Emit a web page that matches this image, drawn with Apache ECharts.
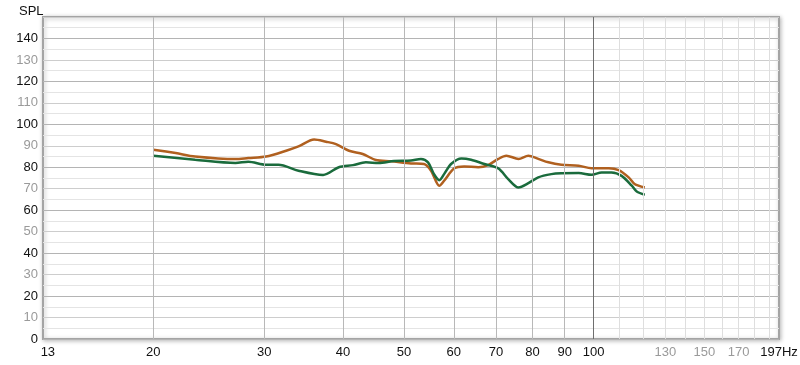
<!DOCTYPE html>
<html>
<head>
<meta charset="utf-8">
<script src="https://cdn.jsdelivr.net/npm/echarts@6/dist/echarts.min.js"></script>
<style>
html,body{margin:0;padding:0;background:#fff;}
#c{width:800px;height:365px;}
</style>
</head>
<body>
<div id="c"></div>
<script>
// ---- data ----
const orangeFreq = [20, 21.7, 23.3, 27.0, 28.3, 30.2, 32.5, 34.0, 36.0, 37.6, 39.0, 40.9, 43.0, 45.1, 47.7, 51.3, 53.8, 55.2, 56.9, 57.9, 60.1, 62.3, 65.6, 68.0, 70.6, 72.7, 76.0, 78.8, 81.7, 84.8, 88.9, 94.7, 99.3, 105.7, 109.6, 113.7, 116.2, 120.6];
const orangeSpl  = [88.2, 86.6, 85.0, 83.8, 84.3, 85.0, 87.7, 89.7, 92.9, 91.9, 90.8, 87.7, 86.2, 83.4, 82.8, 81.8, 81.5, 78.4, 71.4, 73.7, 79.5, 80.4, 80.0, 81.0, 83.9, 85.4, 83.9, 85.4, 83.9, 82.3, 81.2, 80.7, 79.6, 79.6, 78.7, 75.3, 72.2, 70.6];
const greenFreq  = [20, 23.3, 27.0, 28.3, 30.2, 31.6, 34.0, 37.2, 39.4, 41.5, 43.5, 45.6, 48.2, 51.3, 53.2, 54.6, 55.8, 56.9, 57.9, 59.4, 61.7, 63.9, 67.1, 70.6, 73.2, 76.0, 78.8, 81.7, 85.7, 88.9, 94.7, 99.3, 103.0, 106.8, 110.8, 115.0, 117.1, 120.6];
const greenSpl   = [85.4, 83.5, 82.0, 82.6, 81.2, 81.2, 78.4, 76.4, 80.0, 81.0, 82.3, 82.0, 82.9, 83.1, 83.9, 82.3, 76.8, 74.0, 76.8, 81.5, 84.1, 83.5, 81.5, 79.5, 74.5, 70.6, 72.6, 75.3, 76.8, 77.2, 77.3, 76.5, 77.6, 77.6, 76.0, 71.4, 68.7, 67.2];

const xMin = 13.36, xMax = 197;
const majorGridFreqs = [20, 30, 40, 50, 60, 70, 80, 90];
const decadeGridFreqs = [100];
const minorGridFreqs = [110, 120, 130, 140, 150, 160, 170, 180, 190];
const xTickValues = [13.6, 20, 30, 40, 50, 60, 70, 80, 90, 100, 130, 150, 170, 197];
const xTickLabels = ['13', '20', '30', '40', '50', '60', '70', '80', '90', '100', '130', '150', '170', '197Hz'];
const xGreyLabels = ['130', '150', '170'];

const FONT = "'Liberation Sans', Arial, sans-serif";

const lineData = [];
majorGridFreqs.forEach(f => lineData.push({xAxis: f, lineStyle: {color: '#b8b8b8', width: 1, type: 'solid'}, label: {show: false}}));
decadeGridFreqs.forEach(f => lineData.push({xAxis: f, lineStyle: {color: '#6e6e6e', width: 1, type: 'solid'}, label: {show: false}}));
minorGridFreqs.forEach(f => lineData.push({xAxis: f, lineStyle: {color: '#dedede', width: 1, type: 'solid'}, label: {show: false}}));
xTickValues.forEach((f, i) => lineData.push({
  xAxis: f,
  lineStyle: {color: 'rgba(255,255,255,0)', width: 1},
  label: {
    show: true, position: 'start', distance: 7,
    formatter: xTickLabels[i],
    color: xGreyLabels.indexOf(xTickLabels[i]) >= 0 ? '#9a9a9a' : '#111',
    fontSize: 13, fontFamily: FONT
  }
}));

const chart = echarts.init(document.getElementById('c'), null, {renderer: 'canvas'});
chart.setOption({
  animation: false,
  backgroundColor: '#fff',
  title: {text: 'SPL', left: 14, top: 0, textStyle: {fontSize: 13, fontWeight: 'normal', color: '#111', fontFamily: FONT}},
  grid: {
    left: 43, top: 17, right: 21, bottom: 26,
    show: true, backgroundColor: '#fff',
    borderColor: '#a4a4a4', borderWidth: 2,
    shadowColor: 'rgba(0,0,0,0.25)', shadowBlur: 4, shadowOffsetX: 1, shadowOffsetY: 1
  },
  xAxis: {
    type: 'log', logBase: 10, min: xMin, max: xMax,
    axisLine: {show: false}, axisTick: {show: false}, axisLabel: {show: false}, splitLine: {show: false}
  },
  yAxis: {
    type: 'value', min: 0, max: 150, interval: 5,
    axisLine: {show: false}, axisTick: {show: false},
    axisLabel: {
      margin: 5, fontSize: 13, fontFamily: FONT,
      formatter: v => (v % 10 === 0 && v < 150) ? String(v) : '',
      color: v => (v % 20 === 0 ? '#111' : '#9a9a9a')
    },
    splitLine: {show: true, lineStyle: {color: ['#b4b4b4', '#e4e4e4', '#cdcdcd', '#e4e4e4'], width: 1}}
  },
  series: [
    {
      type: 'line', data: [], z: 1, silent: true,
      markLine: {silent: true, symbol: 'none', animation: false, data: lineData}
    },
    {
      name: 'orange', type: 'line', z: 3, smooth: 0.3, showSymbol: false, silent: true,
      lineStyle: {color: '#b0601f', width: 2.5}, itemStyle: {color: '#b0601f'},
      data: orangeFreq.map((f, i) => [f, orangeSpl[i]])
    },
    {
      name: 'green', type: 'line', z: 4, smooth: 0.3, showSymbol: false, silent: true,
      lineStyle: {color: '#1a6b3c', width: 2.5}, itemStyle: {color: '#1a6b3c'},
      data: greenFreq.map((f, i) => [f, greenSpl[i]])
    }
  ]
});
</script>
</body>
</html>
